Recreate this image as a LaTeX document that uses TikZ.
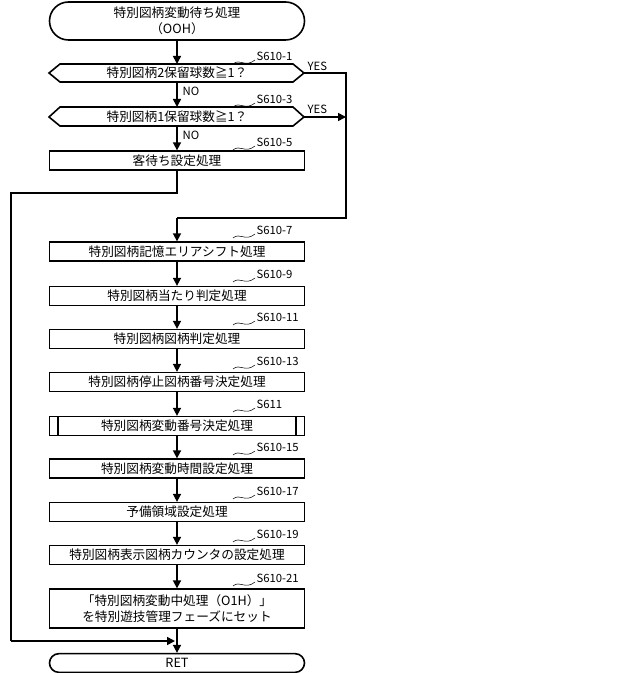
\documentclass[tikz,border=0pt]{standalone}
\usepackage{fontspec}
\setmainfont{Noto Sans CJK JP}
\usetikzlibrary{arrows.meta,shapes.misc}
\begin{document}
\begin{tikzpicture}[x=0.75pt,y=-0.75pt,
  proc/.style={draw,line width=1.2pt,minimum width=191.25pt,minimum height=14pt,inner sep=0pt,font=\fontsize{9.5}{11}\selectfont},
  term/.style={proc,rounded rectangle},
  deci/.style={proc,draw=none},
  lbl/.style={font=\fontsize{8.5}{9}\selectfont,anchor=west,inner sep=1pt},
  flow/.style={line width=1.2pt,-{Triangle[length=6pt,width=6pt]}},
  ln/.style={line width=1.2pt}]
\useasboundingbox (0,0) rectangle (640,673);
\newcommand{\tag}[2]{\draw[thin] (233,#1+8) .. controls (240,#1+2) and (245,#1+12) .. (255,#1+4);
  \node[lbl] at (255,#1) {#2};}
\node[term,minimum height=28.5pt] (s) at (177,21) {\shortstack{特別図柄変動待ち処理\\（OOH）}};
\node[deci] (d1) at (177,73) {特別図柄2保留球数≧1？};
\draw[line width=1.2pt] (49,73)--(60,64)--(293,64)--(304,73)--(293,82)--(60,82)--cycle;
\node[deci] (d2) at (177,117) {特別図柄1保留球数≧1？};
\draw[line width=1.2pt] (49,117)--(60,107)--(293,107)--(304,117)--(293,126)--(60,126)--cycle;
\node[proc] (b5) at (177,160.5) {客待ち設定処理};
\node[proc] (b7) at (177,251.5) {特別図柄記憶エリアシフト処理};
\node[proc] (b9) at (177,296) {特別図柄当たり判定処理};
\node[proc] (b11) at (177,339) {特別図柄図柄判定処理};
\node[proc] (b13) at (177,382) {特別図柄停止図柄番号決定処理};
\node[proc] (b611) at (177,426) {特別図柄変動番号決定処理};
\draw[line width=1.2pt] (58,417)--(58,435) (296,417)--(296,435);
\node[proc] (b15) at (177,468.5) {特別図柄変動時間設定処理};
\node[proc] (b17) at (177,512) {予備領域設定処理};
\node[proc] (b19) at (177,555) {特別図柄表示図柄カウンタの設定処理};
\node[proc,minimum height=29pt] (b21) at (177,608.5) {\shortstack{「特別図柄変動中処理（O1H）」\\を特別遊技管理フェーズにセット}};
\node[term] (ret) at (177,663) {RET};
\coordinate (j) at (346,117);
\draw[flow] (s) -- (177,64);
\draw[flow] (177,82) -- (177,107);
\draw[flow] (177,126) -- (b5);
\node[lbl] at (181,91) {NO};
\node[lbl] at (181,135) {NO};
\draw[ln] (304,73) -- (346,73) -- (346,218) -- (177,218);
\draw[flow] (177,218) -- (b7);
\draw[flow] (304,117) -- (j);
\node[lbl] at (306,66) {YES};
\node[lbl] at (306,109) {YES};
\draw[flow] (b7)--(b9); \draw[flow] (b9)--(b11); \draw[flow] (b11)--(b13);
\draw[flow] (b13)--(b611); \draw[flow] (b611)--(b15); \draw[flow] (b15)--(b17);
\draw[flow] (b17)--(b19); \draw[flow] (b19)--(b21); \draw[flow] (b21)--(ret);
\draw[ln] (b5) -- (177,193) -- (11,193) -- (11,641);
\draw[flow] (11,641) -- (175,641);
\tag{56}{S610-1}\tag{99}{S610-3}\tag{142}{S610-5}\tag{230}{S610-7}
\tag{274}{S610-9}\tag{317}{S610-11}\tag{361}{S610-13}\tag{404}{S611}
\tag{447}{S610-15}\tag{491}{S610-17}\tag{534}{S610-19}\tag{578}{S610-21}
\end{tikzpicture}
\end{document}
